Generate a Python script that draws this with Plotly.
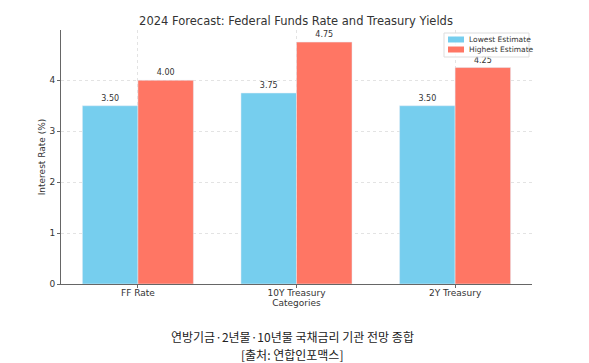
import plotly.graph_objects as go

categories = ["FF Rate", "10Y Treasury", "2Y Treasury"]
lowest = [3.50, 3.75, 3.50]
highest = [4.00, 4.75, 4.25]
series_names = ["Lowest Estimate", "Highest Estimate"]
colors = ["#76CEEE", "#FF7664"]

FONT = "DejaVu Sans"
W, H = 589, 363
L, R, T, B = 61, 57, 30, 79
PW, PH = W - L - R, H - T - B

def px_x(x):
    return (x - L) / PW

def px_y(y):
    return (H - B - y) / PH

fig = go.Figure()
for name, vals, col in zip(series_names, [lowest, highest], colors):
    fig.add_trace(go.Bar(x=categories, y=vals, name=name, marker_color=col,
                         text=[f"{v:.2f}" for v in vals], textposition="outside",
                         textfont=dict(size=8, color="#333333", family=FONT), cliponaxis=False,
                         showlegend=False))

fig.update_layout(
    width=W, height=H,
    margin=dict(l=L, r=R, t=T, b=B),
    barmode="group", bargap=0.3, bargroupgap=0,
    plot_bgcolor="white", paper_bgcolor="white",
    font=dict(family=FONT, size=9, color="#333333"),
    title=dict(text="2024 Forecast: Federal Funds Rate and Treasury Yields", x=px_x(296), xref="paper",
               xanchor="center", y=1 - 21 / H, yanchor="middle",
               font=dict(size=11.5, color="#333333", family=FONT)),
    showlegend=False,
)
fig.update_xaxes(range=[-0.485, 2.485], showline=True, linecolor="#666666", linewidth=1,
                 showgrid=True, gridcolor="#e3e3e3", griddash="dot", gridwidth=1,
                 ticks="outside", ticklen=3, tickcolor="#666666", automargin=False,
                 ticklabelstandoff=-3,
                 title=dict(text="Categories", font=dict(size=9), standoff=0),
                 tickfont=dict(size=9))
fig.update_yaxes(range=[0, 4.9875], dtick=1, showline=True, linecolor="#666666", linewidth=1,
                 showgrid=True, gridcolor="#e3e3e3", griddash="dot", gridwidth=1,
                 ticks="outside", ticklen=3, tickcolor="#666666", zeroline=False, automargin=False,
                 title=dict(text="Interest Rate (%)", font=dict(size=9), standoff=2),
                 tickfont=dict(size=9))

# legend box (drawn manually to match compact matplotlib legend)
fig.add_shape(type="rect", xref="paper", yref="paper",
              x0=px_x(444), x1=px_x(529), y0=px_y(57), y1=px_y(33),
              line=dict(color="#dddddd", width=1), fillcolor="rgba(255,255,255,0.85)", layer="above")
for i, (name, col) in enumerate(zip(series_names, colors)):
    yc = 39.5 + i * 10
    fig.add_shape(type="rect", xref="paper", yref="paper",
                  x0=px_x(448), x1=px_x(464), y0=px_y(yc + 3), y1=px_y(yc - 3),
                  line=dict(width=0), fillcolor=col, layer="above")
    fig.add_annotation(text=name, xref="paper", yref="paper", x=px_x(467), y=px_y(yc),
                       xanchor="left", yanchor="middle", showarrow=False,
                       font=dict(size=7.5, family=FONT, color="#333333"))

captions = ["연방기금·2년물·10년물 국채금리 기관 전망 종합", "[출처: 연합인포맥스]"]
for cap, yc in zip(captions, [336.5, 354.5]):
    fig.add_annotation(text=cap, xref="paper", yref="paper",
                       x=px_x(292), y=px_y(yc), xanchor="center", yanchor="middle",
                       showarrow=False, font=dict(family="Noto Sans CJK KR", size=12, color="#222222"))

fig.write_html("out.html", config={"displayModeBar": False},
               post_script="document.body.style.margin='0';document.body.style.overflow='hidden';")
